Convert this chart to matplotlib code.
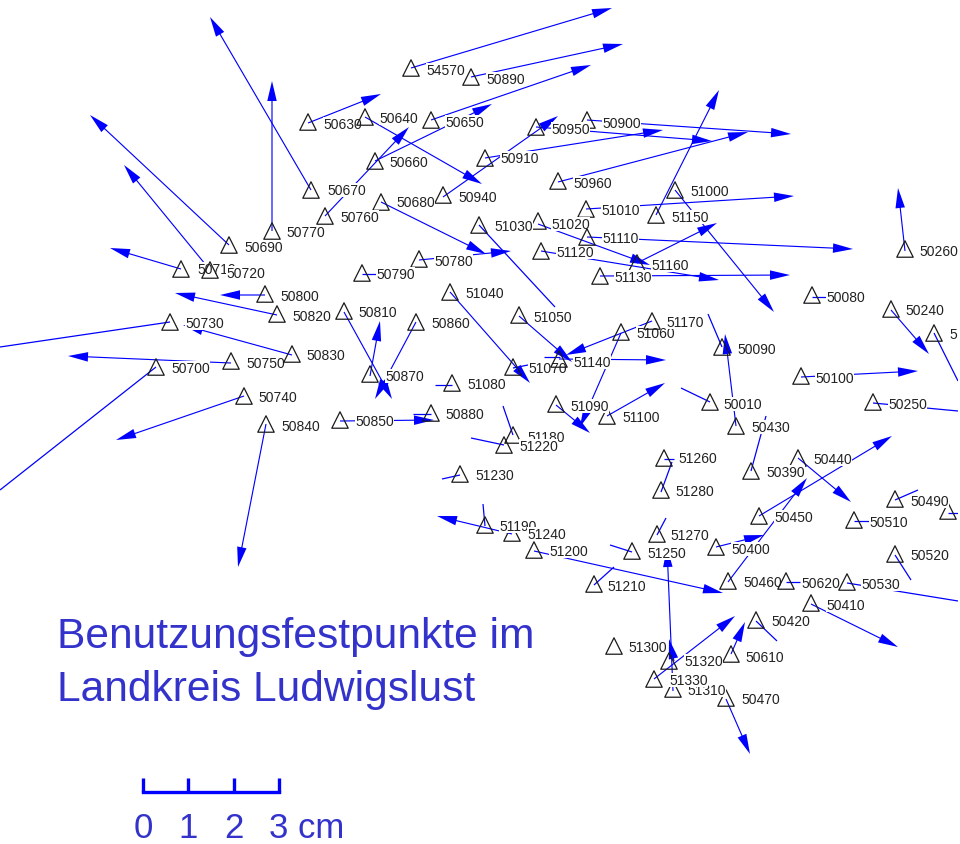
import matplotlib
matplotlib.use("Agg")
import matplotlib.pyplot as plt
from matplotlib.patches import Rectangle

plt.rcParams['font.family'] = ['Liberation Sans', 'DejaVu Sans']

station_ids = ["50690","50770","50670","50630","50640","50650","54570","50890","50660","50680","50760","50940",
 "50910","50950","50900","50960","51010","51020","51030","51110","51120","51160","51130","51000","51150","50790",
 "50780","50260","50080","50240","5","50710","50720","50800","50820","50730","50830","50750","50700","50740","50840",
 "50810","50860","50870","50850","50880","51040","51050","51070","51080","51140","51060","51170","51090","51100",
 "51180","51220","51230","50090","50010","50100","50250","50430","50440","50390","51260","51280","50490","",
 "50510","50450","51270","50400","51250","51190","51240","51200","51210","50520","50460","50620","50530","50410",
 "50420","51300","51320","50610","51310","51330","50470"]
station_x = [229,272,311,308,365,431,411,471,375,381,325,443,485,536,587,558,586,538,479,587,541,637,600,675,656,362,
 419,905,812,891,934,181,210,265,277,170,292,231,156,244,266,344,416,370,340,431,450,519,513,452,559,621,652,556,607,
 513,504,460,722,710,801,873,736,798,751,664,661,895,948,854,759,657,716,632,485,512,534,594,895,728,786,847,811,
 756,614,669,731,673,654,726]
station_y = [246,232,191,123,118,121,69,78,162,203,217,196,159,128,121,182,210,222,226,238,252,264,277,191,216,274,
 260,250,296,310,334,270,271,295,315,323,355,362,368,397,425,312,323,375,421,414,293,316,368,384,360,333,322,405,417,
 436,446,475,348,403,377,403,427,459,472,459,491,500,512,521,517,535,548,552,526,534,551,585,555,582,582,583,604,
 621,647,662,655,690,680,699]
label_x = [244,286,327,323,379,445,426,486,389,396,340,458,500,551,602,573,601,551,494,602,556,651,614,690,671,376,
 434,919,826,905,949,197,226,280,292,185,306,246,171,258,281,358,431,385,355,445,465,533,528,467,573,636,666,570,622,
 527,519,475,737,723,815,888,751,813,766,678,675,910,960,869,774,670,731,647,499,527,549,607,910,743,801,861,826,
 771,628,684,745,687,669,741]
label_y = [248,233,191,125,119,123,71,80,163,203,218,198,159,130,124,184,211,225,227,239,253,266,278,192,218,275,
 262,252,298,311,335,270,274,297,317,324,356,364,369,398,427,313,324,377,422,415,294,318,369,385,363,334,323,407,418,
 438,447,476,350,405,379,405,428,460,473,459,492,502,514,523,518,536,550,554,527,535,552,587,556,583,584,585,606,
 622,648,662,658,691,681,700]
triangles_over_labels = ["50720","50640","51170","51140","50620","50530","50830","51110","51320"]

# vectors ending in an arrowhead
arrow_x0 = [229,311,272,210,181,265,277,292,231,244,266,308,365,431,411,471,375,325,381,419,443,485,536,587,558,656,675,
 586,538,587,541,600,637,905,891,801,450,519,652,621,556,607,344,370,416,340,559,798,759,716,728,811,731,654,673,674,726,
 512,534,736]
arrow_y0 = [246,191,232,271,270,296,316,356,364,397,425,124,118,121,69,78,162,217,203,261,198,159,128,121,183,216,191,
 210,225,238,252,277,264,252,311,378,293,317,322,334,406,417,313,377,323,422,360,459,517,548,583,605,655,680,692,662,700,
 535,552,427]
arrow_x1 = [90,210,272,124,110,220,175,183,68,116,238,381,482,591,612,623,492,409,486,511,558,663,712,791,748,719,774,
 794,650,853,719,790,717,898,929,918,530,572,566,580,590,665,392,380,375,434,666,851,892,764,807,898,745,735,667,669,750,
 437,723,725]
arrow_y1 = [116,18,82,166,249,296,294,326,357,441,568,95,185,66,9,45,105,128,255,252,117,131,142,135,133,91,313,
 197,266,250,281,276,224,189,355,372,384,363,356,428,434,384,400,322,400,421,361,503,437,536,479,648,623,617,548,640,755,
 517,594,335]

# vectors without a visible head
stub_x0 = [170,156,479,934,873,895,847,895,854,948,786,362,812,751,710,722,452,513,513,504,460,485,632,594,657,664,661,431,756,544]
stub_y0 = [323,368,226,334,404,556,584,501,522,514,583,275,298,472,403,348,386,369,436,446,476,527,553,586,536,460,493,415,622,358]
stub_x1 = [0,0,555,958,958,911,958,918,870,958,800,378,826,766,681,708,435,528,503,471,442,483,610,614,666,674,672,413,777,560]
stub_y1 = [348,491,308,382,412,581,602,491,522,514,583,275,298,417,389,315,386,366,407,439,480,505,546,568,519,460,463,415,642,358]

scale_ticks = [143,188,234,279]
scale_labels = ["0","1","2","3 cm"]
title_lines = ["Benutzungsfestpunkte im","Landkreis Ludwigslust"]

BLUE = "#0000ff"
TXT = "#3333cc"

fig = plt.figure(figsize=(9.6,8.45),dpi=100)
ax = fig.add_axes([0,0,958/960,1])
ax.set_xlim(0,958)
ax.set_ylim(845,0)
ax.axis('off')

for x0,y0,x1,y1 in zip(arrow_x0,arrow_y0,arrow_x1,arrow_y1):
    ax.arrow(x0,y0,x1-x0,y1-y0,width=1.15,head_width=9.5,head_length=20,
             length_includes_head=True,color=BLUE,lw=0,zorder=1)
for x0,y0,x1,y1 in zip(stub_x0,stub_y0,stub_x1,stub_y1):
    ax.plot([x0,x1],[y0,y1],color=BLUE,lw=0.9,zorder=1,solid_capstyle='butt')

for sid,x,y in zip(station_ids,station_x,station_y):
    ax.scatter([x],[y],marker='^',s=140,facecolors='none',edgecolors='#1a1a1a',
               linewidths=0.9,zorder=5 if sid in triangles_over_labels else 2)
for i,(sid,x,y) in enumerate(zip(station_ids,label_x,label_y)):
    if sid:
        ax.text(x,y,sid,fontsize=10,color='#222222',va='center',ha='left',zorder=3+i*0.01,clip_on=True,
                bbox=dict(boxstyle='square,pad=0.03',fc='white',ec='none'))
# lower edge of the 51060 label is cut off in the source map
ax.add_patch(Rectangle((634,338.5),44,6,fc='white',ec='none',zorder=4.5))

for i,line in enumerate(title_lines):
    ax.text(57,648+i*53,line,fontsize=30.6,color=TXT,va='baseline',ha='left',zorder=6)

ax.plot([scale_ticks[0],scale_ticks[-1]],[793,793],color=BLUE,lw=2.4,zorder=6,solid_capstyle='projecting')
for t in scale_ticks:
    ax.plot([t,t],[779,793],color=BLUE,lw=2.4,zorder=6,solid_capstyle='butt')
for t,lab in zip(scale_ticks,scale_labels):
    if lab.endswith('cm'):
        ax.text(t-10,838,lab,fontsize=25,color=TXT,va='baseline',ha='left',zorder=6)
    else:
        ax.text(t,838,lab,fontsize=25,color=TXT,va='baseline',ha='center',zorder=6)

fig.savefig('out.png',dpi=100,facecolor='white')
